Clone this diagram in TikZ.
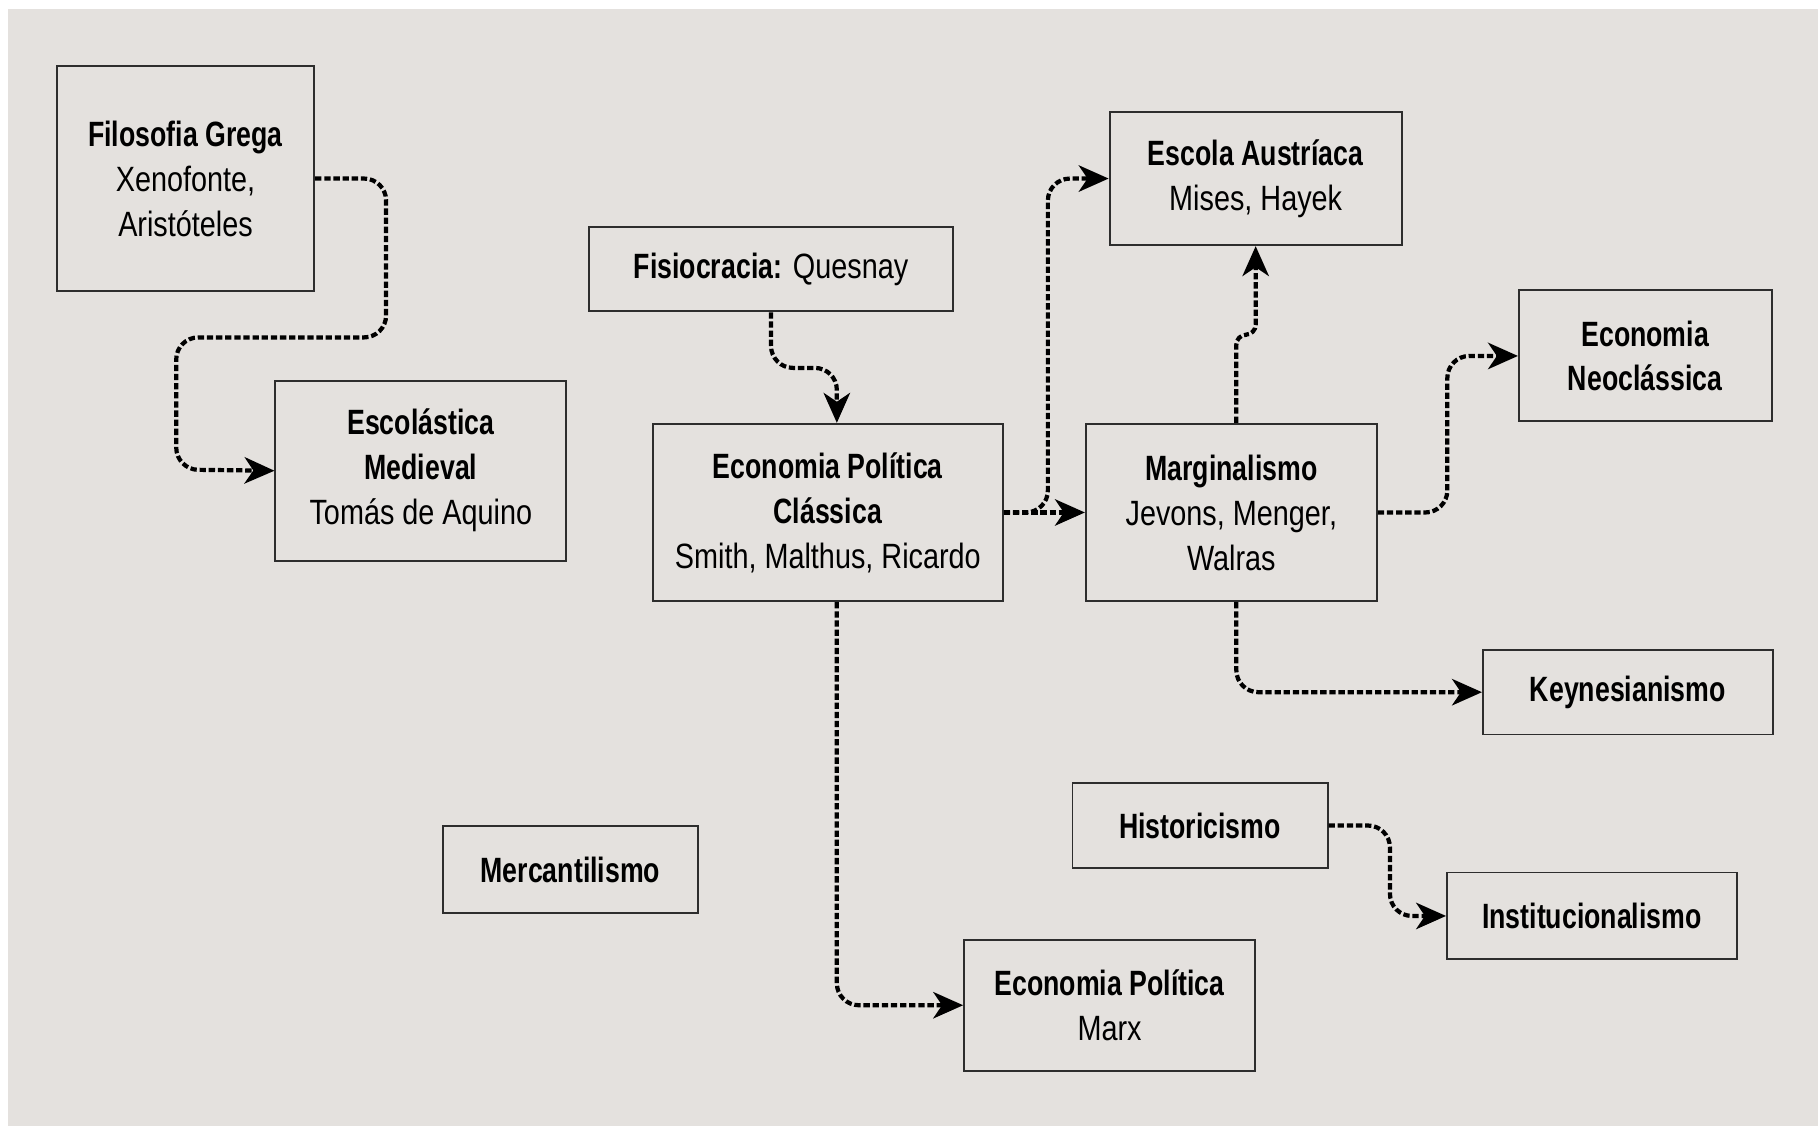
\documentclass[tikz,border=0pt]{standalone}
\usepackage{fontspec}
\setmainfont{Liberation Sans}[UprightFeatures={FakeStretch=0.82},BoldFeatures={FakeStretch=0.76}]
\usetikzlibrary{arrows.meta}
\definecolor{paper}{RGB}{228,225,222}
\definecolor{edge}{RGB}{45,45,45}

\begin{document}
\begin{tikzpicture}[x=0.011594cm,y=-0.011594cm,
  box/.style={draw=edge,line width=0.55pt,align=center,inner sep=0pt,
    font=\fontsize{10}{12.8}\selectfont},
  flow/.style={line width=1.2pt,dash pattern=on 1.8pt off 0.8pt,rounded corners=0.22cm,
    -{Stealth[length=8.5pt,width=7.5pt,inset=2.5pt]}}]
\useasboundingbox (0,0) rectangle (1568,971);
\fill[paper] (7,8) rectangle (1568,971);
\node[box,minimum width=2.574cm,minimum height=2.249cm] (grega) at (160,154) {\textbf{Filosofia Grega}\\Xenofonte,\\Aristóteles};
\node[box,minimum width=2.910cm,minimum height=1.797cm] (escol) at (363,406) {\textbf{Escolástica}\\\textbf{Medieval}\\Tomás de Aquino};
\node[box,minimum width=3.640cm,minimum height=0.846cm] (fisio) at (665,232) {\textbf{Fisiocracia:} Quesnay};
\node[box,minimum width=3.501cm,minimum height=1.774cm] (clas) at (714,442) {\textbf{Economia Política}\\\textbf{Clássica}\\Smith, Malthus, Ricardo};
\node[box,minimum width=2.922cm,minimum height=1.333cm] (aust) at (1083,154) {\textbf{Escola Austríaca}\\Mises, Hayek};
\node[box,minimum width=2.910cm,minimum height=1.774cm] (marg) at (1062,442) {\textbf{Marginalismo}\\Jevons, Menger,\\Walras};
\node[box,minimum width=2.527cm,minimum height=1.310cm] (neo) at (1419,307) {\textbf{Economia}\\\textbf{Neoclássica}};
\node[box,minimum width=2.899cm,minimum height=0.846cm] (keyn) at (1404,597) {\textbf{Keynesianismo}};
\node[box,minimum width=2.551cm,minimum height=0.846cm] (hist) at (1035,712) {\textbf{Historicismo}};
\node[box,minimum width=2.899cm,minimum height=0.870cm] (inst) at (1373,790) {\textbf{Institucionalismo}};
\node[box,minimum width=2.551cm,minimum height=0.870cm] (merc) at (492,750) {\textbf{Mercantilismo}};
\node[box,minimum width=2.910cm,minimum height=1.310cm] (marx) at (957,867) {\textbf{Economia Política}\\Marx};
\draw[flow] (grega.east) -| (333,291) -| (152,405) -- (escol.west);
\draw[flow] (fisio.south) -- ++(0,48) -| ([xshift=0.09cm]clas.north);
\draw[flow] (clas.east) -- (marg.west);
\draw[flow] (clas.east) -- ++(38,0) |- (aust.west);
\draw[flow,rounded corners=0.1cm] ([xshift=0.05cm]marg.north) -- ++(0,-76) -| (aust.south);
\draw[flow] (marg.east) -- ++(60,0) |- (neo.west);
\draw[flow] ([xshift=0.05cm]marg.south) |- (keyn.west);
\draw[flow] ([xshift=0.09cm]clas.south) |- (marx.west);
\draw[flow] (hist.east) -- ++(53,0) |- (inst.west);
\end{tikzpicture}
\end{document}
